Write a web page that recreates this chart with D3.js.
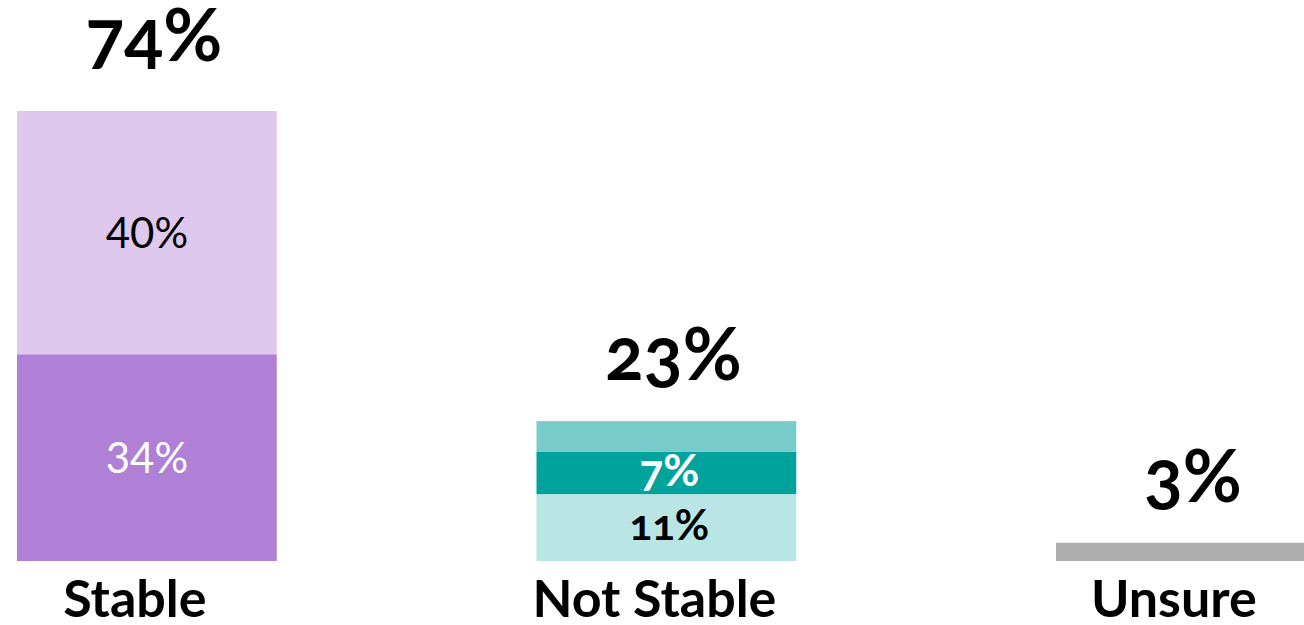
<!DOCTYPE html>
<html>
<head>
<meta charset="utf-8">
<script src="https://cdn.jsdelivr.net/npm/d3@7"></script>
<style>
  html, body { margin: 0; padding: 0; background: #ffffff; }
  svg { display: block; }
  text { font-family: Lato, "Noto Sans", sans-serif; }
  .bold { font-weight: 700; font-variant-numeric: oldstyle-nums; font-feature-settings: "onum" 1; }
</style>
</head>
<body>
<svg id="chart" width="1304" height="625"></svg>
<script>
// Categories along the x axis
const categories = ["Stable", "Not Stable", "Unsure"];

// Stacked segments, bottom to top (percent)
const segBottom = [34, 11, 3];
const segMiddle = [40, 7, 0];
const segTop    = [0, 5, 0];

// Fill colours per category, bottom to top
const fillsStable    = ["#b07fd6", "#dfc8ee", "#dfc8ee"];
const fillsNotStable = ["#b9e5e4", "#00a39c", "#78cbcb"];
const fillsUnsure    = ["#adadad", "#adadad", "#adadad"];

// Which segments carry an in-bar value label, bottom to top
const labelStable    = [true, true, false];
const labelNotStable = [true, true, false];
const labelUnsure    = [false, false, false];

const fills = [fillsStable, fillsNotStable, fillsUnsure];
const labelled = [labelStable, labelNotStable, labelUnsure];
const inkColours = [["#ffffff", "#000000"], ["#000000", "#ffffff"], ["#000000", "#000000"]];

const svg = d3.select("#chart");

const table = categories.map((c, i) => ({
  cat: c, s0: segBottom[i], s1: segMiddle[i], s2: segTop[i]
}));
const keys = ["s0", "s1", "s2"];
const stacked = d3.stack().keys(keys)(table);

const x = d3.scaleBand()
  .domain(categories)
  .range([17, 1315.75])
  .paddingInner(0.5)
  .paddingOuter(0);

const totalMax = d3.max(table, d => d.s0 + d.s1 + d.s2);
const y = d3.scaleLinear().domain([0, totalMax]).range([561, 111]);

// Bars
stacked.forEach((layer, li) => {
  svg.append("g")
    .selectAll("rect")
    .data(layer.filter(d => d[1] > d[0]))
    .join("rect")
    .attr("x", d => x(d.data.cat))
    .attr("y", d => y(d[1]))
    .attr("width", x.bandwidth())
    .attr("height", d => y(d[0]) - y(d[1]))
    .attr("fill", d => fills[categories.indexOf(d.data.cat)][li]);
});

// In-bar value labels
stacked.forEach((layer, li) => {
  const shown = layer.filter(d => labelled[categories.indexOf(d.data.cat)][li]);
  svg.append("g")
    .selectAll("text")
    .data(shown)
    .join("text")
    .attr("class", d => d.data.cat === "Stable" ? "" : "bold")
    .attr("x", d => x(d.data.cat) + x.bandwidth() / 2 + (d.data.cat === "Stable" ? 0 : 3))
    .attr("y", d => (y(d[0]) + y(d[1])) / 2)
    .attr("dy", d => d.data.cat === "Stable" ? "0.36em" : "0.3em")
    .attr("text-anchor", "middle")
    .attr("font-size", d => d.data.cat === "Stable" ? 42 : (li === 1 ? 44 : 42))
    .attr("fill", d => inkColours[categories.indexOf(d.data.cat)][li])
    .text(d => (d[1] - d[0]) + "%");
});

// Totals above each bar
const totalLift = { "Stable": 9 };
svg.append("g")
  .selectAll("text")
  .data(table)
  .join("text")
  .attr("class", "bold")
  .attr("x", d => x(d.cat) + x.bandwidth() / 2 + 7)
  .attr("y", d => y(d.s0 + d.s1 + d.s2) - 41 - (totalLift[d.cat] || 0))
  .attr("text-anchor", "middle")
  .attr("font-size", 72)
  .attr("fill", "#000000")
  .text(d => (d.s0 + d.s1 + d.s2) + "%");

// Category axis labels
svg.append("g")
  .selectAll("text")
  .data(categories)
  .join("text")
  .attr("class", "bold")
  .attr("x", c => x(c) + x.bandwidth() / 2 - 12)
  .attr("y", 617)
  .attr("text-anchor", "middle")
  .attr("font-size", 52)
  .attr("fill", "#000000")
  .text(c => c);
</script>
</body>
</html>
